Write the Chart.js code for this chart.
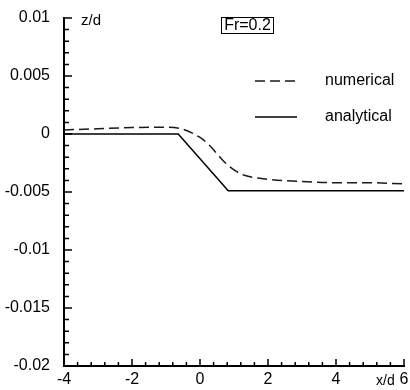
<!DOCTYPE html>
<html lang="en">
<head>
    <meta charset="UTF-8">
    <title>Fr=0.2 surface profile</title>
    <script src="https://cdn.jsdelivr.net/npm/chart.js"></script>
    <style>
        body {
            margin: 0;
            padding: 0;
            background: #ffffff;
        }

        .chart-box {
            width: 410px;
            height: 390px;
        }
    </style>
</head>
<body>
    <div class="chart-box">
        <canvas id="profile"></canvas>
    </div>

    <script>
        // Data
        const numericalX = [-4, -3, -2, -1, -0.5, 0, 0.25, 0.5, 0.75, 1, 1.25, 1.5, 2, 3, 4, 5, 6];
        const numericalZ = [0.00035, 0.00045, 0.00055, 0.00058, 0.0004, -0.0003, -0.0009, -0.0017, -0.0025, -0.0031, -0.0035, -0.0037, -0.0039, -0.0041, -0.0042, -0.0042, -0.0043];
        const analyticalX = [-4, -0.64, 0.83, 6];
        const analyticalZ = [0, 0, -0.0049, -0.0049];
        const xTickLabels = [-4, -2, 0, 2, 4, 6];
        const zTickLabels = [0.01, 0.005, 0, -0.005, -0.01, -0.015, -0.02];
        const caseLabel = 'Fr=0.2';

        const font = "'Liberation Sans', Arial, sans-serif";

        function toPoints(xs, ys) {
            return xs.map((x, i) => ({ x: x, y: ys[i] }));
        }

        function isLabelled(list, v) {
            return list.some(t => Math.abs(t - v) < 1e-9);
        }

        // ticks pointing into the plot, titles, case box and legend
        const decorations = {
            id: 'decorations',
            afterDraw(chart) {
                const ctx = chart.ctx;
                const area = chart.chartArea;
                const xs = chart.scales.x;
                const ys = chart.scales.y;
                ctx.save();
                ctx.strokeStyle = '#000';
                ctx.lineWidth = 1.5;
                ctx.beginPath();
                xs.ticks.forEach(t => {
                    const px = xs.getPixelForValue(t.value);
                    const len = isLabelled(xTickLabels, t.value) ? 7 : 4;
                    ctx.moveTo(px, area.bottom);
                    ctx.lineTo(px, area.bottom - len);
                });
                ys.ticks.forEach(t => {
                    const py = ys.getPixelForValue(t.value);
                    const len = isLabelled(zTickLabels, t.value) ? 8 : 5;
                    ctx.moveTo(area.left, py);
                    ctx.lineTo(area.left + len, py);
                });
                ctx.stroke();

                ctx.fillStyle = '#000';
                ctx.textBaseline = 'middle';
                ctx.textAlign = 'left';
                ctx.font = '15px ' + font;
                ctx.fillText('z/d', 81, 21);
                ctx.font = '14px ' + font;
                ctx.fillText('x/d', 376, 381);

                // case box
                ctx.font = '16px ' + font;
                ctx.lineWidth = 1;
                ctx.strokeRect(221.5, 17.5, 52, 16);
                ctx.textAlign = 'center';
                ctx.fillText(caseLabel, 247.5, 26);

                // legend
                ctx.textAlign = 'left';
                ctx.font = '16px ' + font;
                const rows = [81, 117];
                chart.data.datasets.forEach((ds, i) => {
                    const y = rows[i];
                    ctx.strokeStyle = ds.borderColor;
                    ctx.lineWidth = ds.borderWidth;
                    ctx.setLineDash(ds.borderDash || []);
                    ctx.beginPath();
                    ctx.moveTo(255, y);
                    ctx.lineTo(297, y);
                    ctx.stroke();
                    ctx.setLineDash([]);
                    ctx.fillText(ds.label, 325, y);
                });
                ctx.restore();
            }
        };

        const ctx = document.getElementById('profile').getContext('2d');

        new Chart(ctx, {
            type: 'line',
            data: {
                datasets: [{
                    label: 'numerical',
                    data: toPoints(numericalX, numericalZ),
                    borderColor: '#1a1a1a',
                    borderWidth: 1.5,
                    borderDash: [10, 5],
                    cubicInterpolationMode: 'monotone',
                    pointRadius: 0,
                    fill: false,
                }, {
                    label: 'analytical',
                    data: toPoints(analyticalX, analyticalZ),
                    borderColor: '#000000',
                    borderWidth: 1.5,
                    tension: 0,
                    pointRadius: 0,
                    fill: false,
                }],
            },
            options: {
                responsive: true,
                maintainAspectRatio: false,
                animation: false,
                layout: {
                    padding: { top: 18, right: 6, left: 0, bottom: 0 }
                },
                plugins: {
                    legend: { display: false },
                    tooltip: { enabled: false },
                },
                scales: {
                    x: {
                        type: 'linear',
                        min: -4,
                        max: 6,
                        grid: { display: false },
                        border: { display: true, color: '#000', width: 2 },
                        ticks: {
                            stepSize: 0.4,
                            autoSkip: false,
                            maxRotation: 0,
                            padding: -4,
                            color: '#000',
                            font: { family: font, size: 16 },
                            callback: v => isLabelled(xTickLabels, v) ? String(Math.round(v)) : '',
                        },
                        afterFit: s => { s.height = 24; },
                    },
                    y: {
                        min: -0.02,
                        max: 0.01,
                        grid: { display: false },
                        border: { display: true, color: '#000', width: 2 },
                        ticks: {
                            stepSize: 0.001,
                            autoSkip: false,
                            padding: 6,
                            color: '#000',
                            font: { family: font, size: 16 },
                            callback: v => isLabelled(zTickLabels, v) ? String(Math.round(v * 1000) / 1000) : '',
                        },
                        afterFit: s => { s.width = 64; },
                    },
                },
            },
            plugins: [decorations],
        });
    </script>
</body>
</html>
